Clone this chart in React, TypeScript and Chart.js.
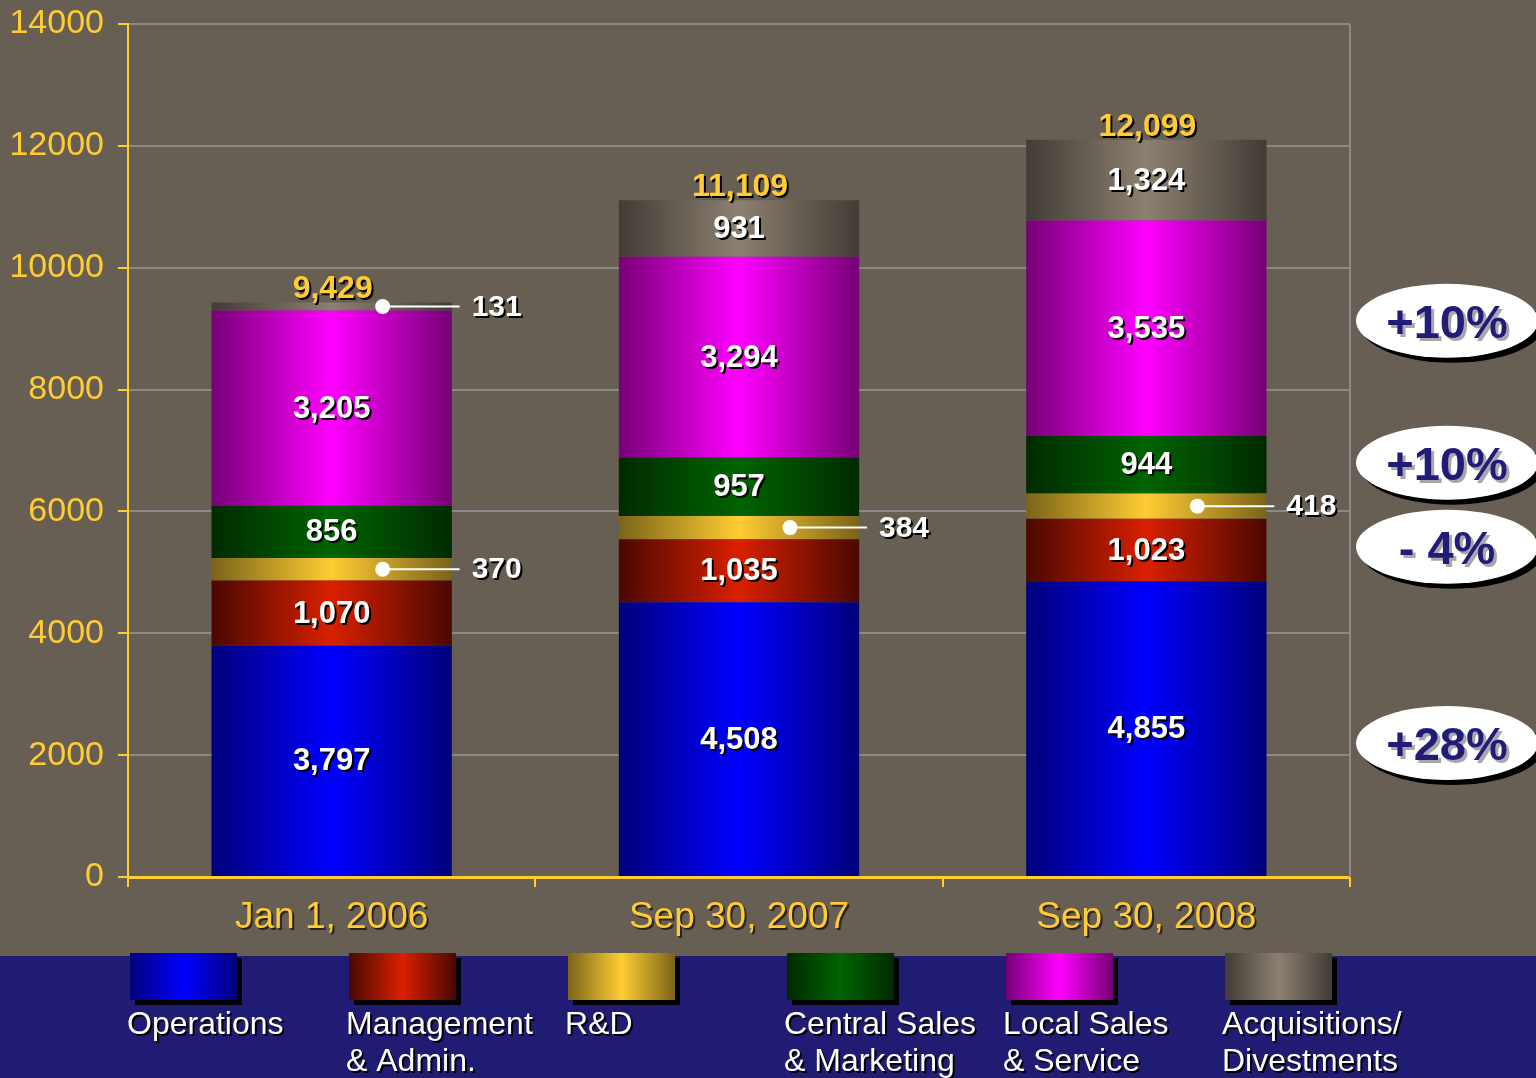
import { useEffect, useRef } from "react";
import { Chart, registerables } from "chart.js";

Chart.register(...registerables);

const categories = ["Jan 1, 2006", "Sep 30, 2007", "Sep 30, 2008"];
const seriesNames = [
  "Operations",
  "Management\n& Admin.",
  "R&D",
  "Central Sales\n& Marketing",
  "Local Sales\n& Service",
  "Acquisitions/\nDivestments",
];
const operations = [3797, 4508, 4855];
const management = [1070, 1035, 1023];
const research = [370, 384, 418];
const centralSales = [856, 957, 944];
const localSales = [3205, 3294, 3535];
const acquisitions = [131, 931, 1324];
const seriesValues = [operations, management, research, centralSales, localSales, acquisitions];

const yMin = 0;
const yMax = 14000;
const yStep = 2000;

const growthLabels = ["+10%", "+10%", "- 4%", "+28%"];
const growthLevels = [9130, 6800, 5420, 2200];

const darkColors = ["#00007a", "#4a0800", "#7a6418", "#002a00", "#760076", "#423c36"];
const brightColors = ["#0000ff", "#d92000", "#ffcc33", "#006400", "#ff00ff", "#8c8070"];

const FONT = "'Liberation Sans', Arial, Helvetica, sans-serif";
const BG = "#675e54";
const BAND = "#201c74";
const YELLOW = "#ffcc33";
const GRID = "#8a8a8a";
const NAVY = "#201c78";
const BAR_PCT = 0.59;

function hGrad(ctx: CanvasRenderingContext2D, x0: number, x1: number, dark: string, bright: string) {
  const g = ctx.createLinearGradient(x0, 0, x1, 0);
  g.addColorStop(0, dark);
  g.addColorStop(0.5, bright);
  g.addColorStop(1, dark);
  return g;
}

function shadowText(
  ctx: CanvasRenderingContext2D,
  text: string,
  x: number,
  y: number,
  color: string,
  shadow: string,
  off: number
) {
  ctx.fillStyle = shadow;
  ctx.fillText(text, x + off, y + off);
  ctx.fillStyle = color;
  ctx.fillText(text, x, y);
}

const decorPlugin = {
  id: "decor",
  beforeDraw(chart: any) {
    const { ctx, width, height, chartArea } = chart;
    ctx.save();
    ctx.fillStyle = BG;
    ctx.fillRect(0, 0, width, height);
    ctx.fillStyle = BAND;
    ctx.fillRect(0, chartArea.bottom + 79, width, height);
    ctx.restore();
  },
  beforeDatasetsDraw(chart: any) {
    const { ctx, chartArea } = chart;
    ctx.save();
    ctx.strokeStyle = GRID;
    ctx.lineWidth = 2;
    ctx.beginPath();
    ctx.moveTo(chartArea.right, chartArea.top);
    ctx.lineTo(chartArea.right, chartArea.bottom);
    ctx.stroke();
    ctx.restore();
  },
  afterDatasetsDraw(chart: any) {
    const { ctx } = chart;
    const yScale = chart.scales.y;
    ctx.save();
    ctx.textBaseline = "middle";
    chart.data.datasets.forEach((ds: any, d: number) => {
      const meta = chart.getDatasetMeta(d);
      meta.data.forEach((el: any, i: number) => {
        const { x, y, base } = el.getProps(["x", "y", "base"], true);
        const v = ds.data[i];
        const h = Math.abs(base - y);
        const cy = (y + base) / 2;
        const txt = v.toLocaleString("en-US");
        if (h < 35) {
          ctx.font = `bold 30px ${FONT}`;
          ctx.fillStyle = "#ffffff";
          ctx.strokeStyle = "#ffffff";
          ctx.lineWidth = 2;
          ctx.beginPath();
          ctx.moveTo(x + 51, cy);
          ctx.lineTo(x + 128, cy);
          ctx.stroke();
          ctx.beginPath();
          ctx.arc(x + 51, cy, 7.5, 0, Math.PI * 2);
          ctx.fill();
          ctx.textAlign = "left";
          shadowText(ctx, txt, x + 140, cy + 1, "#ffffff", "#000000", 2);
        } else {
          ctx.font = `bold 31px ${FONT}`;
          ctx.textAlign = "center";
          shadowText(ctx, txt, x, cy + 1, "#ffffff", "#000000", 2);
        }
      });
    });
    const meta0 = chart.getDatasetMeta(0);
    categories.forEach((_, i) => {
      const total = seriesValues.reduce((s, arr) => s + arr[i], 0);
      const top = yScale.getPixelForValue(total);
      const x = meta0.data[i].x;
      ctx.font = `bold 32px ${FONT}`;
      ctx.textAlign = "center";
      shadowText(ctx, total.toLocaleString("en-US"), x + 1, top - 13, YELLOW, "#000000", 2);
    });
    ctx.restore();
  },
  afterDraw(chart: any) {
    const { ctx, chartArea } = chart;
    const xScale = chart.scales.x;
    const yScale = chart.scales.y;
    ctx.save();
    ctx.font = `37px ${FONT}`;
    ctx.textAlign = "center";
    ctx.textBaseline = "alphabetic";
    categories.forEach((c, i) => {
      const x = xScale.getPixelForValue(i);
      shadowText(ctx, c, x, chartArea.bottom + 51, YELLOW, "#2a241e", 2);
    });
    const cx = chartArea.right + 97;
    growthLabels.forEach((g, i) => {
      const cy = yScale.getPixelForValue(growthLevels[i]);
      ctx.fillStyle = "#000000";
      ctx.beginPath();
      ctx.ellipse(cx + 5, cy + 5, 91, 37, 0, 0, Math.PI * 2);
      ctx.fill();
      ctx.fillStyle = "#ffffff";
      ctx.beginPath();
      ctx.ellipse(cx, cy, 91, 37, 0, 0, Math.PI * 2);
      ctx.fill();
      ctx.font = `bold 47px ${FONT}`;
      ctx.textAlign = "center";
      ctx.textBaseline = "middle";
      shadowText(ctx, g, cx, cy + 4, NAVY, "#a8a8a8", 3);
    });
    const legendTop = chartArea.bottom + 76;
    chart.data.datasets.forEach((ds: any, d: number) => {
      const sx = 130 + d * 219;
      const sw = 107;
      const sh = 47;
      ctx.fillStyle = "#000000";
      ctx.fillRect(sx + 5, legendTop + 5, sw, sh);
      ctx.fillStyle = hGrad(ctx, sx, sx + sw, darkColors[d], brightColors[d]);
      ctx.fillRect(sx, legendTop, sw, sh);
      ctx.font = `32px ${FONT}`;
      ctx.textAlign = "left";
      ctx.textBaseline = "alphabetic";
      String(ds.label)
        .split("\n")
        .forEach((line: string, li: number) => {
          shadowText(ctx, line, sx - 3, legendTop + 81 + li * 37, "#ffffff", "#000000", 2);
        });
    });
    ctx.restore();
  },
};

export default function App() {
  const canvasRef = useRef<HTMLCanvasElement | null>(null);

  useEffect(() => {
    if (!canvasRef.current) return;
    Chart.defaults.font.family = FONT;
    const datasets = seriesValues.map((vals, d) => ({
      label: seriesNames[d],
      data: vals,
      borderWidth: 0,
      backgroundColor: (c: any) => {
        const chart = c.chart;
        const xs = chart.scales?.x;
        if (c.type !== "data" || !chart.chartArea || !xs) return brightColors[d];
        const x = xs.getPixelForValue(c.dataIndex);
        const w = (xs.width / categories.length) * BAR_PCT;
        if (!isFinite(x) || !isFinite(w)) return brightColors[d];
        return hGrad(chart.ctx, x - w / 2, x + w / 2, darkColors[d], brightColors[d]);
      },
    }));
    const chart = new Chart(canvasRef.current, {
      type: "bar",
      data: { labels: categories, datasets },
      plugins: [decorPlugin],
      options: {
        animation: false,
        responsive: true,
        maintainAspectRatio: false,
        layout: { padding: { top: 24, right: 186, left: 0, bottom: 0 } },
        datasets: { bar: { barPercentage: BAR_PCT, categoryPercentage: 1 } },
        plugins: { legend: { display: false }, tooltip: { enabled: false } },
        scales: {
          x: {
            stacked: true,
            offset: true,
            grid: {
              display: true,
              drawOnChartArea: false,
              offset: true,
              tickColor: YELLOW,
              tickLength: 10,
              lineWidth: 2,
            },
            border: { color: YELLOW, width: 3 },
            ticks: { color: "rgba(0,0,0,0)", font: { size: 35 } },
            afterFit(s: any) {
              s.height = 201;
              s.paddingLeft = 0;
              s.paddingRight = 0;
            },
          },
          y: {
            stacked: true,
            min: yMin,
            max: yMax,
            ticks: {
              stepSize: yStep,
              color: YELLOW,
              font: { size: 34 },
              padding: 14,
              callback: (v: any) => String(v),
            },
            grid: { color: GRID, lineWidth: 2, tickColor: YELLOW, tickLength: 10 },
            border: { color: YELLOW, width: 2 },
            afterFit(s: any) {
              s.width = 128;
              s.paddingTop = 0;
              s.paddingBottom = 0;
            },
          },
        },
      } as any,
    });
    return () => chart.destroy();
  }, []);

  return (
    <div style={{ position: "absolute", left: 0, top: 0, width: 1536, height: 1078 }}>
      <canvas ref={canvasRef} />
    </div>
  );
}
